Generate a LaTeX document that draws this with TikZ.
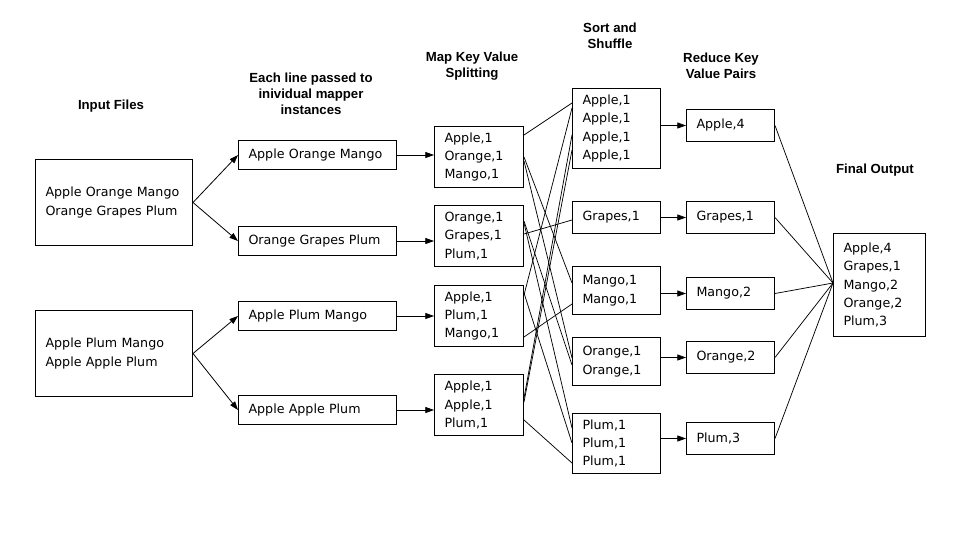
\documentclass[tikz,border=0pt]{standalone}
\usepackage{fontspec}
\setmainfont{DejaVu Sans}
\newfontfamily\headfont{Liberation Sans}
\usetikzlibrary{arrows.meta,calc}

\begin{document}
\begin{tikzpicture}[x=0.75pt,y=-0.75pt,
  box/.style={draw, line width=0.75pt, align=left, anchor=north west,
    inner xsep=7.5pt, inner ysep=0pt,
    font=\fontsize{9.5}{13.8}\selectfont},
  inbox/.style={box, text width=102.75pt, minimum height=64.5pt},
  linebox/.style={box, text width=103.5pt, minimum height=21.75pt},
  mapbox/.style={box, text width=51.75pt, minimum height=45.75pt},
  sortbox/.style={box, text width=51pt, minimum height=#1},
  redbox/.style={box, text width=51pt, minimum height=24pt},
  outbox/.style={box, text width=54pt, minimum height=77.25pt},
  head/.style={align=center, inner sep=0pt,
    font=\headfont\bfseries\fontsize{9.9}{12}\selectfont},
  arr/.style={line width=0.6pt, -{Triangle[length=6.5pt,width=4.5pt]}},
  wire/.style={line width=0.55pt}
]
\useasboundingbox (0,0) rectangle (968,550);
\fill[white] (0,0) rectangle (968,550);

% column headings
\node[head] (h1) at (111,106) {Input Files};
\node[head] (h2) at (311,94) {Each line passed to\\inividual mapper\\instances};
\node[head] (h3) at (472,66) {Map Key Value\\Splitting};
\node[head] (h4) at (610,36) {Sort and\\Shuffle};
\node[head] (h5) at (721,66) {Reduce Key\\Value Pairs};
\node[head] (h6) at (875,170) {Final Output};

% input files
\node[inbox] (in1) at (35,159) {Apple Orange Mango\\Orange Grapes Plum};
\node[inbox] (in2) at (35,310) {Apple Plum Mango\\Apple Apple Plum};

% single lines
\node[linebox] (l1) at (238,140) {Apple Orange Mango};
\node[linebox] (l2) at (238,226) {Orange Grapes Plum};
\node[linebox] (l3) at (238,301) {Apple Plum Mango};
\node[linebox] (l4) at (238,395) {Apple Apple Plum};

% mapper output
\node[mapbox] (m1) at (434,126) {Apple,1\\Orange,1\\Mango,1};
\node[mapbox] (m2) at (434,205) {Orange,1\\Grapes,1\\Plum,1};
\node[mapbox] (m3) at (434,285) {Apple,1\\Plum,1\\Mango,1};
\node[mapbox] (m4) at (434,374) {Apple,1\\Apple,1\\Plum,1};

% sorted and shuffled
\node[sortbox=60pt] (s1) at (572,88) {Apple,1\\Apple,1\\Apple,1\\Apple,1};
\node[sortbox=24pt] (s2) at (572,201) {Grapes,1};
\node[sortbox=36pt] (s3) at (572,266) {Mango,1\\Mango,1};
\node[sortbox=36pt] (s4) at (572,337) {Orange,1\\Orange,1};
\node[sortbox=45pt] (s5) at (572,413) {Plum,1\\Plum,1\\Plum,1};

% reducer output
\node[redbox] (r1) at (686,109) {Apple,4};
\node[redbox] (r2) at (686,201) {Grapes,1};
\node[redbox] (r3) at (686,277) {Mango,2};
\node[redbox] (r4) at (686,341) {Orange,2};
\node[redbox] (r5) at (686,422) {Plum,3};

% final result
\node[outbox] (fo) at (833,233) {Apple,4\\Grapes,1\\Mango,2\\Orange,2\\Plum,3};
\coordinate (join) at ($(fo.north west)+(0,50)$);

% splitting input into lines
\draw[arr] (in1.east) -- (l1.west);
\draw[arr] (in1.east) -- (l2.west);
\draw[arr] (in2.east) -- (l3.west);
\draw[arr] (in2.east) -- (l4.west);

% lines into mappers
\draw[arr] (l1.east) -- (l1.east -| m1.west);
\draw[arr] (l2.east) -- (l2.east -| m2.west);
\draw[arr] (l3.east) -- (l3.east -| m3.west);
\draw[arr] (l4.east) -- (l4.east -| m4.west);

% shuffle: each key goes to its group
\draw[wire] ($(m1.north east)+(0,9)$)  -- ($(s1.north west)+(0,15)$);
\draw[wire] ($(m1.north east)+(0,31)$) -- ($(s3.north west)+(0,17)$);
\draw[wire] ($(m1.north east)+(0,35)$) -- ($(s4.north west)+(0,21)$);
\draw[wire] ($(m2.north east)+(0,16)$) -- ($(s4.north west)+(0,28)$);
\draw[wire] ($(m2.north east)+(0,18)$) -- ($(s5.north west)+(0,15)$);
\draw[wire] ($(m2.north east)+(0,29)$) -- ($(s2.north west)+(0,19)$);
\draw[wire] ($(m3.north east)+(0,10)$) -- ($(s1.north west)+(0,20)$);
\draw[wire] ($(m3.north east)+(0,8)$)  -- ($(s5.north west)+(0,30)$);
\draw[wire] ($(m3.north east)+(0,52)$) -- ($(s3.north west)+(0,38)$);
\draw[wire] ($(m4.north east)+(0,24)$) -- ($(s1.north west)+(0,47)$);
\draw[wire] ($(m4.north east)+(0,28)$) -- ($(s1.north west)+(0,62)$);
\draw[wire] ($(m4.north east)+(0,46)$) -- ($(s5.north west)+(0,50)$);

% groups into reducers
\draw[arr] (r1.west -| s1.east) -- (r1.west);
\draw[arr] (r2.west -| s2.east) -- (r2.west);
\draw[arr] (r3.west -| s3.east) -- (r3.west);
\draw[arr] (r4.west -| s4.east) -- (r4.west);
\draw[arr] (r5.west -| s5.east) -- (r5.west);

% reducers into the final output
\draw[wire] (r1.east) -- (join);
\draw[wire] (r2.east) -- (join);
\draw[wire] (r3.east) -- (join);
\draw[wire] (r4.east) -- (join);
\draw[wire] (r5.east) -- (join);
\end{tikzpicture}
\end{document}
